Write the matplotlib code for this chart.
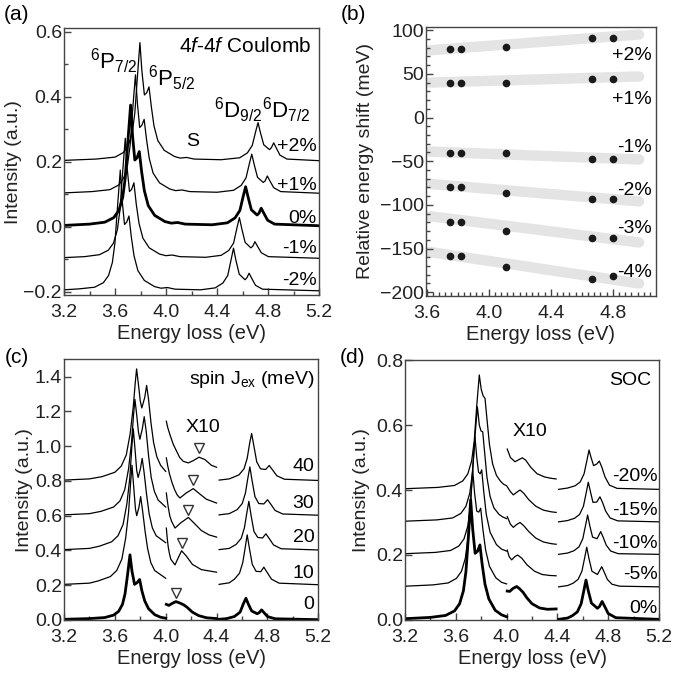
import matplotlib.pyplot as plt
import numpy as np
from matplotlib.ticker import MultipleLocator

plt.rcParams['font.family'] = ['Liberation Sans', 'DejaVu Sans']
plt.rcParams['mathtext.fontset'] = 'custom'
plt.rcParams['mathtext.rm'] = 'Liberation Sans'
plt.rcParams['mathtext.it'] = 'Liberation Sans:italic'
plt.rcParams['mathtext.bf'] = 'Liberation Sans:bold'

# ---------------- (a) 4f-4f Coulomb, strain series ----------------
a_labels = ['+2%', '+1%', '0%', '-1%', '-2%']
a_offsets = [0.2, 0.1, 0.0, -0.1, -0.2]
a_x = [
    [3.20, 3.45, 3.60, 3.665, 3.705, 3.735, 3.755, 3.775, 3.795, 3.81, 3.83, 3.848, 3.866, 3.884, 3.905, 3.935,
     3.985, 4.065, 4.11, 4.16, 4.22, 4.43, 4.577, 4.637, 4.675, 4.702, 4.720, 4.740, 4.765, 4.810, 4.825, 4.843,
     4.862, 4.892, 4.947, 5.20],
    [3.20, 3.42, 3.56, 3.628, 3.668, 3.698, 3.718, 3.738, 3.760, 3.775, 3.793, 3.810, 3.828, 3.846, 3.868, 3.898,
     3.948, 4.028, 4.075, 4.125, 4.185, 4.40, 4.528, 4.588, 4.626, 4.653, 4.671, 4.691, 4.716, 4.761, 4.776, 4.793,
     4.813, 4.843, 4.898, 5.20],
    [3.20, 3.40, 3.52, 3.59, 3.63, 3.66, 3.68, 3.70, 3.722, 3.737, 3.755, 3.772, 3.790, 3.808, 3.83, 3.86,
     3.91, 3.99, 4.04, 4.09, 4.15, 4.36, 4.48, 4.54, 4.578, 4.605, 4.623, 4.643, 4.668, 4.713, 4.728, 4.745,
     4.765, 4.795, 4.85, 5.20],
    [3.20, 3.36, 3.478, 3.548, 3.588, 3.618, 3.638, 3.658, 3.680, 3.695, 3.713, 3.730, 3.748, 3.766, 3.788, 3.818,
     3.868, 3.948, 3.998, 4.048, 4.108, 4.31, 4.431, 4.491, 4.529, 4.556, 4.574, 4.594, 4.619, 4.664, 4.679, 4.696,
     4.716, 4.746, 4.801, 5.20],
    [3.20, 3.32, 3.44, 3.509, 3.549, 3.579, 3.599, 3.619, 3.641, 3.656, 3.674, 3.691, 3.709, 3.727, 3.749, 3.779,
     3.829, 3.909, 3.96, 4.01, 4.07, 4.27, 4.385, 4.445, 4.483, 4.510, 4.528, 4.548, 4.573, 4.618, 4.633, 4.650,
     4.670, 4.700, 4.755, 5.20],
]
a_y = [
    [0.004, 0.008, 0.014, 0.028, 0.05, 0.09, 0.15, 0.26, 0.366, 0.28, 0.205, 0.212, 0.230, 0.17, 0.11, 0.065,
     0.035, 0.016, 0.011, 0.013, 0.008, 0.006, 0.012, 0.027, 0.05, 0.093, 0.120, 0.088, 0.052, 0.037, 0.043, 0.058,
     0.043, 0.02, 0.008, 0.003],
    [0.004, 0.008, 0.014, 0.028, 0.05, 0.09, 0.15, 0.26, 0.367, 0.28, 0.205, 0.212, 0.230, 0.17, 0.11, 0.065,
     0.035, 0.016, 0.011, 0.013, 0.008, 0.006, 0.012, 0.027, 0.05, 0.095, 0.123, 0.09, 0.052, 0.036, 0.041, 0.056,
     0.041, 0.02, 0.008, 0.003],
    [0.004, 0.008, 0.014, 0.028, 0.05, 0.09, 0.15, 0.26, 0.374, 0.28, 0.205, 0.212, 0.231, 0.17, 0.11, 0.065,
     0.035, 0.016, 0.011, 0.013, 0.008, 0.006, 0.012, 0.027, 0.05, 0.095, 0.123, 0.09, 0.052, 0.036, 0.042, 0.057,
     0.042, 0.02, 0.008, 0.003],
    [0.005, 0.008, 0.014, 0.028, 0.05, 0.09, 0.15, 0.26, 0.372, 0.28, 0.208, 0.215, 0.235, 0.17, 0.11, 0.065,
     0.035, 0.016, 0.011, 0.013, 0.008, 0.006, 0.012, 0.027, 0.05, 0.098, 0.128, 0.092, 0.052, 0.035, 0.040, 0.054,
     0.040, 0.02, 0.008, 0.003],
    [0.006, 0.009, 0.014, 0.028, 0.05, 0.09, 0.15, 0.26, 0.374, 0.28, 0.207, 0.214, 0.233, 0.17, 0.11, 0.065,
     0.035, 0.016, 0.011, 0.013, 0.008, 0.006, 0.012, 0.027, 0.05, 0.10, 0.134, 0.095, 0.054, 0.037, 0.043, 0.057,
     0.042, 0.02, 0.008, 0.003],
]
a_label_y = [0.246, 0.128, 0.026, -0.066, -0.164]

# ---------------- (b) relative energy shifts ----------------
b_x = [3.752, 3.820, 4.113, 4.667, 4.800]
b_labels = ['+2%', '+1%', '-1%', '-2%', '-3%', '-4%']
b_shift = [
    [78, 78, 81, 91, 91],
    [39, 39, 39, 44, 44],
    [-41, -41, -41, -47, -47],
    [-80, -80, -86, -93, -93],
    [-120, -120, -130, -138, -138],
    [-158, -158, -171, -185, -182],
]
b_band_x = [3.62, 4.97]
b_band_y = [[77, 95], [40, 47], [-39, -48], [-76, -96], [-113, -143], [-154, -190]]
b_label_y = [71, 21, -34, -84, -127, -178]

# ---------------- (c) spin exchange J_ex ----------------
c_labels = ['40', '30', '20', '10', '0']
c_offsets = [0.8, 0.6, 0.4, 0.2, 0.0]
c_left_x = [
    [3.20, 3.40, 3.50, 3.60, 3.65, 3.69, 3.72, 3.744, 3.760, 3.771, 3.785, 3.80, 3.812, 3.835, 3.850, 3.865,
     3.885, 3.905, 3.93, 3.96, 4.0],
    [3.20, 3.40, 3.49, 3.59, 3.64, 3.678, 3.708, 3.731, 3.747, 3.758, 3.772, 3.786, 3.797, 3.816, 3.831, 3.846,
     3.866, 3.886, 3.911, 3.941, 4.0],
    [3.20, 3.40, 3.48, 3.575, 3.625, 3.665, 3.695, 3.718, 3.734, 3.745, 3.759, 3.772, 3.783, 3.801, 3.815, 3.83,
     3.85, 3.87, 3.895, 3.925, 4.0],
    [3.20, 3.40, 3.47, 3.565, 3.615, 3.655, 3.685, 3.708, 3.724, 3.735, 3.749, 3.762, 3.772, 3.79, 3.803, 3.818,
     3.838, 3.858, 3.883, 3.913, 4.0],
    [3.20, 3.40, 3.52, 3.59, 3.63, 3.66, 3.68, 3.70, 3.719, 3.735, 3.755, 3.775, 3.795, 3.812, 3.835, 3.865,
     3.915, 3.96, 4.0],
]
c_left_y = [
    [0.005, 0.012, 0.025, 0.05, 0.085, 0.15, 0.27, 0.42, 0.56, 0.645, 0.56, 0.46, 0.42, 0.48, 0.55, 0.47,
     0.33, 0.22, 0.14, 0.09, 0.055],
    [0.005, 0.012, 0.025, 0.05, 0.085, 0.15, 0.27, 0.42, 0.58, 0.67, 0.58, 0.48, 0.44, 0.50, 0.57, 0.49,
     0.34, 0.22, 0.14, 0.09, 0.05],
    [0.005, 0.012, 0.025, 0.05, 0.085, 0.15, 0.27, 0.42, 0.60, 0.70, 0.58, 0.46, 0.42, 0.47, 0.53, 0.45,
     0.32, 0.21, 0.13, 0.085, 0.045],
    [0.005, 0.012, 0.025, 0.05, 0.085, 0.15, 0.27, 0.42, 0.59, 0.69, 0.56, 0.44, 0.40, 0.45, 0.51, 0.43,
     0.31, 0.21, 0.13, 0.085, 0.04],
    [0.004, 0.008, 0.014, 0.028, 0.05, 0.09, 0.15, 0.26, 0.375, 0.28, 0.205, 0.215, 0.233, 0.17, 0.11, 0.065,
     0.03, 0.016, 0.01],
]
# X10 window, 4.0 - 4.4 eV
c_mid_x = [
    [4.005, 4.015, 4.033, 4.06, 4.086, 4.11, 4.138, 4.178, 4.217, 4.262, 4.309, 4.36, 4.40],
    [4.005, 4.015, 4.03, 4.05, 4.07, 4.09, 4.112, 4.16, 4.217, 4.26, 4.32, 4.40],
    [4.005, 4.012, 4.02, 4.032, 4.045, 4.073, 4.12, 4.178, 4.22, 4.28, 4.34, 4.40],
    [4.005, 4.012, 4.02, 4.03, 4.04, 4.073, 4.10, 4.125, 4.16, 4.21, 4.28, 4.40],
    [4.005, 4.025, 4.05, 4.08, 4.11, 4.14, 4.17, 4.21, 4.26, 4.32, 4.40],
]
c_mid_y = [
    [0.344, 0.31, 0.267, 0.21, 0.171, 0.135, 0.113, 0.104, 0.117, 0.137, 0.123, 0.09, 0.079],
    [0.333, 0.29, 0.24, 0.19, 0.15, 0.12, 0.102, 0.13, 0.156, 0.13, 0.095, 0.073],
    [0.331, 0.29, 0.25, 0.2, 0.17, 0.129, 0.16, 0.19, 0.16, 0.115, 0.09, 0.077],
    [0.329, 0.27, 0.22, 0.18, 0.15, 0.117, 0.16, 0.198, 0.17, 0.12, 0.09, 0.075],
    [0.09, 0.084, 0.095, 0.106, 0.098, 0.088, 0.072, 0.045, 0.025, 0.013, 0.008],
]
c_right_x = [
    [4.42, 4.50, 4.576, 4.616, 4.641, 4.661, 4.676, 4.694, 4.716, 4.746, 4.786, 4.814, 4.839, 4.874, 4.934, 5.20],
    [4.42, 4.50, 4.562, 4.602, 4.627, 4.647, 4.662, 4.680, 4.702, 4.732, 4.772, 4.801, 4.826, 4.861, 4.921, 5.20],
    [4.42, 4.50, 4.554, 4.594, 4.619, 4.639, 4.654, 4.672, 4.694, 4.724, 4.762, 4.788, 4.813, 4.848, 4.908, 5.20],
    [4.42, 4.50, 4.541, 4.581, 4.606, 4.626, 4.641, 4.659, 4.681, 4.711, 4.748, 4.772, 4.797, 4.832, 4.892, 5.20],
    [4.42, 4.48, 4.54, 4.585, 4.612, 4.631, 4.651, 4.676, 4.72, 4.735, 4.754, 4.774, 4.80, 4.86, 5.20],
]
c_right_y = [
    [0.005, 0.012, 0.035, 0.07, 0.13, 0.22, 0.273, 0.2, 0.11, 0.07, 0.066, 0.089, 0.065, 0.03, 0.01, 0.003],
    [0.005, 0.012, 0.035, 0.07, 0.13, 0.22, 0.281, 0.2, 0.11, 0.07, 0.068, 0.092, 0.067, 0.03, 0.01, 0.003],
    [0.005, 0.012, 0.035, 0.07, 0.13, 0.22, 0.283, 0.2, 0.11, 0.075, 0.072, 0.096, 0.07, 0.032, 0.01, 0.003],
    [0.005, 0.014, 0.035, 0.07, 0.13, 0.22, 0.29, 0.21, 0.12, 0.08, 0.078, 0.104, 0.075, 0.035, 0.012, 0.003],
    [0.004, 0.008, 0.02, 0.045, 0.095, 0.125, 0.09, 0.052, 0.036, 0.042, 0.058, 0.042, 0.02, 0.007, 0.002],
]
c_tri_x = [4.262, 4.217, 4.178, 4.125, 4.078]
c_tri_y = [0.987, 0.804, 0.635, 0.442, 0.154]
c_label_y = [0.885, 0.673, 0.475, 0.27, 0.087]

# ---------------- (d) spin-orbit coupling ----------------
d_labels = ['-20%', '-15%', '-10%', '-5%', '0%']
d_offsets = [0.4, 0.3, 0.2, 0.1, 0.0]
d_left_x = [
    [3.20, 3.46, 3.59, 3.655, 3.695, 3.725, 3.745, 3.765, 3.785, 3.80, 3.815, 3.83, 3.845, 3.865, 3.89, 3.92,
     3.95, 3.975, 4.0],
    [3.20, 3.45, 3.575, 3.64, 3.68, 3.71, 3.73, 3.75, 3.770, 3.785, 3.798, 3.812, 3.826, 3.845, 3.87, 3.90,
     3.94, 3.97, 4.0],
    [3.20, 3.44, 3.56, 3.625, 3.665, 3.695, 3.715, 3.733, 3.751, 3.765, 3.779, 3.792, 3.804, 3.82, 3.84, 3.87,
     3.92, 3.96, 4.0],
    [3.20, 3.42, 3.54, 3.605, 3.645, 3.675, 3.695, 3.715, 3.733, 3.748, 3.765, 3.781, 3.796, 3.813, 3.835, 3.865,
     3.915, 3.96, 4.0],
    [3.20, 3.40, 3.52, 3.59, 3.63, 3.66, 3.68, 3.70, 3.717, 3.733, 3.752, 3.772, 3.790, 3.808, 3.83, 3.86,
     3.91, 3.96, 4.0],
]
d_left_y = [
    [0.004, 0.008, 0.014, 0.028, 0.05, 0.09, 0.15, 0.26, 0.354, 0.31, 0.29, 0.282, 0.22, 0.14, 0.08, 0.045,
     0.028, 0.018, 0.013],
    [0.004, 0.008, 0.014, 0.028, 0.05, 0.09, 0.15, 0.26, 0.356, 0.30, 0.282, 0.279, 0.22, 0.14, 0.08, 0.045,
     0.025, 0.017, 0.012],
    [0.004, 0.008, 0.014, 0.028, 0.05, 0.09, 0.15, 0.26, 0.364, 0.30, 0.255, 0.25, 0.262, 0.195, 0.125, 0.07,
     0.032, 0.018, 0.012],
    [0.004, 0.008, 0.014, 0.028, 0.05, 0.09, 0.15, 0.26, 0.362, 0.29, 0.235, 0.232, 0.244, 0.18, 0.115, 0.065,
     0.03, 0.016, 0.011],
    [0.004, 0.008, 0.014, 0.028, 0.05, 0.09, 0.15, 0.26, 0.37, 0.28, 0.205, 0.212, 0.231, 0.17, 0.11, 0.065,
     0.03, 0.016, 0.01],
]
d_mid_x = [
    [4.005, 4.03, 4.066, 4.095, 4.124, 4.15, 4.19, 4.24, 4.30, 4.35, 4.39],
    [4.005, 4.03, 4.053, 4.08, 4.106, 4.135, 4.175, 4.23, 4.29, 4.35, 4.39],
    [4.005, 4.03, 4.053, 4.08, 4.106, 4.135, 4.175, 4.23, 4.29, 4.35, 4.39],
    [4.005, 4.02, 4.04, 4.065, 4.087, 4.12, 4.16, 4.22, 4.28, 4.34, 4.39],
    [4.005, 4.025, 4.05, 4.079, 4.10, 4.13, 4.16, 4.20, 4.26, 4.32, 4.39],
]
d_mid_y = [
    [0.126, 0.10, 0.087, 0.093, 0.099, 0.092, 0.07, 0.05, 0.04, 0.036, 0.034],
    [0.11, 0.095, 0.085, 0.093, 0.10, 0.09, 0.07, 0.05, 0.038, 0.033, 0.031],
    [0.118, 0.095, 0.085, 0.094, 0.10, 0.09, 0.072, 0.052, 0.04, 0.035, 0.033],
    [0.115, 0.095, 0.085, 0.095, 0.10, 0.09, 0.07, 0.05, 0.04, 0.037, 0.036],
    [0.089, 0.088, 0.097, 0.103, 0.097, 0.085, 0.068, 0.05, 0.037, 0.033, 0.034],
]
d_right_x = [
    [4.41, 4.48, 4.54, 4.58, 4.61, 4.632, 4.649, 4.665, 4.685, 4.71, 4.73, 4.75, 4.775, 4.81, 4.87, 5.20],
    [4.41, 4.48, 4.535, 4.575, 4.605, 4.626, 4.643, 4.66, 4.68, 4.71, 4.735, 4.755, 4.78, 4.815, 4.875, 5.20],
    [4.41, 4.48, 4.53, 4.57, 4.60, 4.621, 4.638, 4.655, 4.677, 4.712, 4.741, 4.76, 4.785, 4.82, 4.88, 5.20],
    [4.41, 4.48, 4.523, 4.563, 4.593, 4.614, 4.631, 4.648, 4.672, 4.715, 4.749, 4.768, 4.793, 4.83, 4.89, 5.20],
    [4.41, 4.48, 4.517, 4.557, 4.587, 4.608, 4.625, 4.643, 4.668, 4.715, 4.732, 4.752, 4.772, 4.80, 4.86, 5.20],
]
d_right_y = [
    [0.002, 0.006, 0.013, 0.025, 0.05, 0.09, 0.123, 0.1, 0.075, 0.08, 0.089, 0.07, 0.04, 0.015, 0.005, 0.002],
    [0.002, 0.006, 0.013, 0.025, 0.05, 0.09, 0.124, 0.095, 0.062, 0.063, 0.079, 0.062, 0.035, 0.014, 0.005, 0.002],
    [0.002, 0.006, 0.013, 0.025, 0.05, 0.09, 0.123, 0.09, 0.055, 0.05, 0.072, 0.055, 0.03, 0.012, 0.004, 0.002],
    [0.002, 0.006, 0.013, 0.025, 0.05, 0.09, 0.124, 0.09, 0.05, 0.04, 0.064, 0.048, 0.025, 0.01, 0.004, 0.002],
    [0.002, 0.006, 0.013, 0.025, 0.05, 0.09, 0.123, 0.09, 0.052, 0.036, 0.042, 0.057, 0.042, 0.02, 0.007, 0.002],
]
d_label_y = [0.441, 0.338, 0.236, 0.14, 0.036]

FS = 14
EDGE = '#444444'


def style(ax, ylabel, ylabelpad):
    for s in ax.spines.values():
        s.set_color(EDGE)
        s.set_linewidth(1.0)
    ax.tick_params(which='both', direction='in', color=EDGE, labelcolor='#222222',
                   labelsize=FS, width=1.0)
    ax.tick_params(which='major', length=5)
    ax.tick_params(which='minor', length=3)
    ax.tick_params(axis='x', pad=6.5)
    ax.tick_params(axis='y', pad=1.5)
    ax.set_xlabel('Energy loss (eV)', fontsize=FS + 0.5, color='#222222', labelpad=2)
    ax.set_ylabel(ylabel, fontsize=FS, color='#222222', labelpad=ylabelpad)


fig = plt.figure(figsize=(6.75, 6.79), dpi=100)
ax_a = fig.add_axes([0.0948, 0.5655, 0.3782, 0.3928])
ax_b = fig.add_axes([0.6307, 0.5645, 0.3407, 0.3962])
ax_c = fig.add_axes([0.0948, 0.0869, 0.3767, 0.3839])
ax_d = fig.add_axes([0.6000, 0.0869, 0.3763, 0.3829])

# (a)
for i, lab in enumerate(a_labels):
    lw = 2.0 if lab == '0%' else 0.9
    ax_a.plot(a_x[i], np.array(a_y[i]) + a_offsets[i], color='black', lw=lw)
    ax_a.text(5.18, a_label_y[i], lab, ha='right', va='center', fontsize=FS)
ax_a.set_xlim(3.2, 5.2)
ax_a.set_ylim(-0.21, 0.61)
ax_a.xaxis.set_major_locator(MultipleLocator(0.4))
ax_a.xaxis.set_minor_locator(MultipleLocator(0.2))
ax_a.yaxis.set_major_locator(MultipleLocator(0.2))
ax_a.yaxis.set_minor_locator(MultipleLocator(0.1))
ax_a.text(5.14, 0.554, r'4$\it{f}$-4$\it{f}$ Coulomb', ha='right', va='center', fontsize=15)
ax_a.text(3.592, 0.51, r'$^6$P$_{7/2}$', ha='center', va='center', fontsize=16)
ax_a.text(4.043, 0.457, r'$^6$P$_{5/2}$', ha='center', va='center', fontsize=16)
ax_a.text(4.208, 0.262, 'S', ha='center', va='center', fontsize=FS)
ax_a.text(4.565, 0.359, r'$^6$D$_{9/2}$', ha='center', va='center', fontsize=16)
ax_a.text(4.944, 0.359, r'$^6$D$_{7/2}$', ha='center', va='center', fontsize=16)
style(ax_a, 'Intensity (a.u.)', 1)

# (b)
for i, lab in enumerate(b_labels):
    ax_b.plot(b_band_x, b_band_y[i], color='#e4e4e4', lw=7.5, solid_capstyle='round', zorder=1)
    ax_b.plot(b_x, b_shift[i], 'o', color='#1a1a1a', ms=4.5, zorder=3)
    ax_b.text(5.05, b_label_y[i], lab, ha='right', va='center', fontsize=FS)
ax_b.set_xlim(3.594, 5.077)
ax_b.set_ylim(-204, 104)
ax_b.xaxis.set_major_locator(MultipleLocator(0.4))
ax_b.xaxis.set_minor_locator(MultipleLocator(0.04))
ax_b.yaxis.set_major_locator(MultipleLocator(50))
ax_b.yaxis.set_minor_locator(MultipleLocator(10))
style(ax_b, 'Relative energy shift (meV)', 4)

# (c)
for i, lab in enumerate(c_labels):
    lw = 2.0 if lab == '0' else 0.9
    off = c_offsets[i]
    ax_c.plot(c_left_x[i], np.array(c_left_y[i]) + off, color='black', lw=lw)
    ax_c.plot(c_mid_x[i], np.array(c_mid_y[i]) + off, color='black', lw=lw)
    ax_c.plot(c_right_x[i], np.array(c_right_y[i]) + off, color='black', lw=lw)
    ax_c.text(5.17, c_label_y[i], lab, ha='right', va='center', fontsize=FS)
ax_c.plot(c_tri_x, c_tri_y, 'v', ms=7, mfc='white', mec='#333333', mew=1.0, ls='none')
ax_c.set_xlim(3.2, 5.2)
ax_c.set_ylim(0, 1.5)
ax_c.xaxis.set_major_locator(MultipleLocator(0.4))
ax_c.xaxis.set_minor_locator(MultipleLocator(0.2))
ax_c.yaxis.set_major_locator(MultipleLocator(0.2))
ax_c.text(5.173, 1.385, r'spin J$_{\rm ex}$ (meV)', ha='right', va='center', fontsize=FS)
ax_c.text(4.295, 1.106, 'X10', ha='center', va='center', fontsize=FS)
style(ax_c, 'Intensity (a.u.)', 1)

# (d)
for i, lab in enumerate(d_labels):
    lw = 2.0 if lab == '0%' else 0.9
    off = d_offsets[i]
    ax_d.plot(d_left_x[i], np.array(d_left_y[i]) + off, color='black', lw=lw)
    ax_d.plot(d_mid_x[i], np.array(d_mid_y[i]) + off, color='black', lw=lw)
    ax_d.plot(d_right_x[i], np.array(d_right_y[i]) + off, color='black', lw=lw)
    ax_d.text(5.19, d_label_y[i], lab, ha='right', va='center', fontsize=FS)
ax_d.set_xlim(3.2, 5.2)
ax_d.set_ylim(0, 0.8)
ax_d.xaxis.set_major_locator(MultipleLocator(0.4))
ax_d.xaxis.set_minor_locator(MultipleLocator(0.2))
ax_d.yaxis.set_major_locator(MultipleLocator(0.2))
ax_d.text(5.142, 0.738, 'SOC', ha='right', va='center', fontsize=FS)
ax_d.text(4.184, 0.579, 'X10', ha='center', va='center', fontsize=FS)
style(ax_d, 'Intensity (a.u.)', 4)

# panel letters
for lab, x, y in [('(a)', 0.025, 0.979), ('(b)', 0.524, 0.979), ('(c)', 0.025, 0.473), ('(d)', 0.522, 0.473)]:
    fig.text(x, y, lab, ha='center', va='center', fontsize=15)

fig.savefig('out.png', dpi=100)
